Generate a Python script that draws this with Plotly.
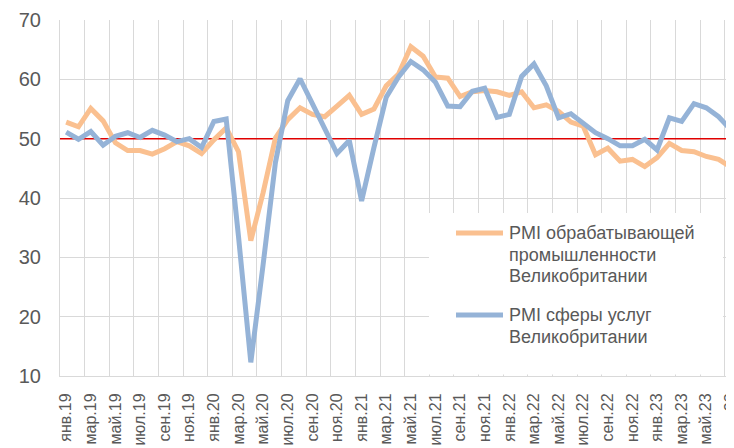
import plotly.graph_objects as go

MONTHS = ["янв", "фев", "мар", "апр", "май", "июн", "июл", "авг", "сен", "окт", "ноя", "дек"]
YEARS = ["19", "20", "21", "22", "23"]
categories = [f"{m}.{y}" for y in YEARS for m in MONTHS][:56]  # янв.19 … авг.23

manufacturing = [
    52.8, 52.0, 55.1, 53.0, 49.3, 48.0, 48.0, 47.4, 48.3, 49.5, 48.8, 47.5,
    49.8, 51.8, 47.8, 32.8, 40.9, 50.1, 53.2, 55.2, 54.1, 53.7, 55.5, 57.3,
    54.1, 55.0, 58.9, 60.9, 65.5, 63.9, 60.4, 60.2, 57.1, 57.9, 58.1, 57.9,
    57.3, 57.9, 55.2, 55.7, 54.6, 52.8, 52.1, 47.3, 48.4, 46.2, 46.5, 45.3,
    46.8, 49.2, 48.0, 47.8, 47.0, 46.5, 45.2, 43.0,
]
services = [
    51.1, 49.9, 51.2, 48.9, 50.4, 51.0, 50.2, 51.4, 50.6, 49.5, 50.0, 48.5,
    52.9, 53.3, 33.5, 12.3, 28.8, 46.0, 56.4, 60.1, 55.9, 51.5, 47.5, 49.7,
    39.5, 48.5, 57.0, 60.4, 63.0, 61.6, 59.5, 55.5, 55.4, 58.0, 58.5, 53.6,
    54.1, 60.5, 62.6, 58.9, 53.5, 54.2, 52.6, 51.0, 50.0, 48.8, 48.8, 49.9,
    48.1, 53.5, 52.9, 55.9, 55.2, 53.7, 51.5, 49.5,
]
series_names = ["PMI обрабатывающей промышленности Великобритании",
                "PMI сферы услуг Великобритании"]
legend_lines = [["PMI обрабатывающей", "промышленности", "Великобритании"],
                ["PMI сферы услуг", "Великобритании"]]
threshold = 50
y_ticks = [10, 20, 30, 40, 50, 60, 70]

ORANGE = "#fac090"
BLUE = "#95b3d7"
TEXT = "#595959"
GRID = "#d9d9d9"
FONT = "Liberation Sans, Arial, sans-serif"

X_RANGE = [-0.5, 54.25]
Y_RANGE = [10, 70]

fig = go.Figure()
fig.add_trace(go.Scatter(x=categories, y=manufacturing, mode="lines",
                         name=series_names[0], line=dict(color=ORANGE, width=5),
                         showlegend=False))
fig.add_trace(go.Scatter(x=categories, y=services, mode="lines",
                         name=series_names[1], line=dict(color=BLUE, width=5),
                         showlegend=False))

# threshold line (between grid and data)
fig.add_shape(type="line", xref="x", yref="y", x0=X_RANGE[0], x1=X_RANGE[1],
              y0=threshold, y1=threshold, layer="between",
              line=dict(color="#e00000", width=1.5))

# window-pixel helpers for the legend block (plot area 60..734 x 20..376)
def ax_x(p):
    return X_RANGE[0] + (p - 60) / 674.0 * (X_RANGE[1] - X_RANGE[0])
def ax_y(p):
    return Y_RANGE[1] - (p - 20) / 356.0 * (Y_RANGE[1] - Y_RANGE[0])
def pp_x(p):
    return (p - 60) / 674.0
def pp_y(p):
    return (376 - p) / 356.0

fig.add_shape(type="rect", xref="x", yref="y",
              x0=ax_x(429), x1=ax_x(723), y0=ax_y(374.5), y1=ax_y(213),
              fillcolor="white", line=dict(width=0), layer="between")

row_y = [[233, 254.5, 276], [315, 336.5]]
colors = [ORANGE, BLUE]
for lines, ys, c in zip(legend_lines, row_y, colors):
    fig.add_shape(type="line", xref="paper", yref="paper",
                  x0=pp_x(456), x1=pp_x(503), y0=pp_y(ys[0]), y1=pp_y(ys[0]),
                  line=dict(color=c, width=5), layer="above")
    for t, yy in zip(lines, ys):
        fig.add_annotation(xref="paper", yref="paper", x=pp_x(507), y=pp_y(yy),
                           text=t, showarrow=False, xanchor="left", yanchor="middle",
                           font=dict(family=FONT, size=18, color=TEXT))

# page body has an 8px margin: figure sits at (8,8) in the 734x448 window
fig.update_layout(
    width=726, height=440,
    margin=dict(l=52, r=0, t=12, b=72),
    paper_bgcolor="white", plot_bgcolor="white",
    font=dict(family=FONT, color=TEXT),
    showlegend=False,
)
fig.update_xaxes(
    type="category", range=X_RANGE, tickmode="linear", tick0=0, dtick=2,
    tickson="boundaries", showgrid=True, gridcolor=GRID, gridwidth=1,
    tickangle=-90, tickfont=dict(family=FONT, size=16, color=TEXT),
    ticks="", ticklabelstandoff=10, showline=True, linecolor=GRID, zeroline=False,
    automargin=False,
)
fig.update_yaxes(
    range=Y_RANGE, tickvals=y_ticks, showgrid=True, gridcolor=GRID, gridwidth=1,
    tickfont=dict(family=FONT, size=20, color=TEXT), ticks="",
    ticklabelstandoff=14, zeroline=False, showline=True, linecolor=GRID,
    automargin=False,
)

fig.write_html("out.html")
